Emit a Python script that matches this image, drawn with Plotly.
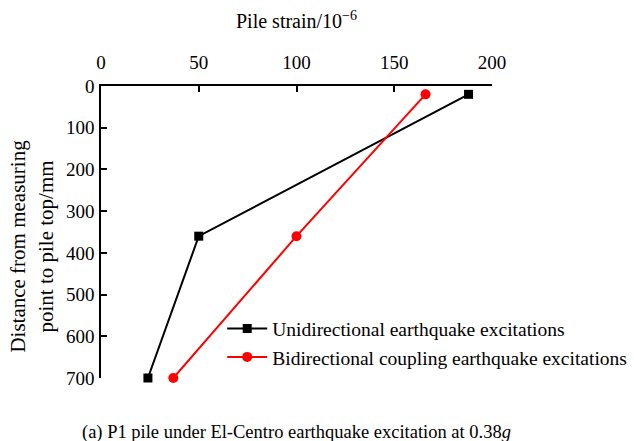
import plotly.graph_objects as go

# Measured pile strain (10^-6) versus depth of measuring point (mm)
depth_mm = [20, 360, 700]
strain_uni = [188, 50, 24]
strain_bi = [166, 100, 37]

series_names = ["Unidirectional earthquake excitations",
                "Bidirectional coupling earthquake excitations"]
x_ticks = [0, 50, 100, 150, 200]
y_ticks = [0, 100, 200, 300, 400, 500, 600, 700]

FONT = "Liberation Serif, Times New Roman, serif"

fig = go.Figure()
fig.add_trace(go.Scatter(
    x=strain_uni, y=depth_mm, name=series_names[0], mode="lines+markers",
    line=dict(color="black", width=2),
    marker=dict(symbol="square", size=9, color="black"),
    cliponaxis=False,
))
fig.add_trace(go.Scatter(
    x=strain_bi, y=depth_mm, name=series_names[1], mode="lines+markers",
    line=dict(color="#ff0000", width=2),
    marker=dict(symbol="circle", size=10, color="#ff0000"),
    cliponaxis=False,
))

fig.update_layout(
    width=634, height=441,
    margin=dict(l=101, r=142, t=86, b=63, autoexpand=False),
    paper_bgcolor="white", plot_bgcolor="white",
    font=dict(family=FONT, size=20, color="black"),
    showlegend=True,
    legend=dict(x=0.31, y=0.235, xanchor="left", yanchor="top",
                bgcolor="rgba(0,0,0,0)", font=dict(size=19.5),
                tracegroupgap=0, itemwidth=40, borderwidth=0),
    xaxis=dict(
        side="top", range=[0, 200], tickvals=x_ticks,
        showline=True, linecolor="black", linewidth=1.5,
        ticks="inside", ticklen=6, tickwidth=1.5, tickcolor="black",
        showgrid=False, zeroline=False, mirror=False,
        tickfont=dict(size=19), ticklabelstandoff=8,
    ),
    yaxis=dict(
        range=[700, 0], tickvals=y_ticks,
        showline=True, linecolor="black", linewidth=1.5,
        ticks="inside", ticklen=6, tickwidth=1.5, tickcolor="black",
        showgrid=False, zeroline=False, mirror=False,
        tickfont=dict(size=19), ticklabelstandoff=1,
    ),
    annotations=[
        dict(text="Pile strain/10<sup>−6</sup>", xref="paper", yref="paper",
             x=0.5, y=1, yshift=66, showarrow=False, font=dict(size=20),
             xanchor="center", yanchor="middle"),
        dict(text="Distance from measuring<br>point to pile top/mm",
             xref="paper", yref="paper", x=0, xshift=-69, y=0.45,
             textangle=-90, showarrow=False, font=dict(size=21),
             xanchor="center", yanchor="middle"),
        dict(text="(a) P1 pile under El-Centro earthquake excitation at 0.38<i>g</i>",
             xref="paper", yref="paper", x=0.5, y=0, yshift=-54,
             showarrow=False, font=dict(size=18.5),
             xanchor="center", yanchor="middle"),
    ],
)

fig.write_html("out.html")
